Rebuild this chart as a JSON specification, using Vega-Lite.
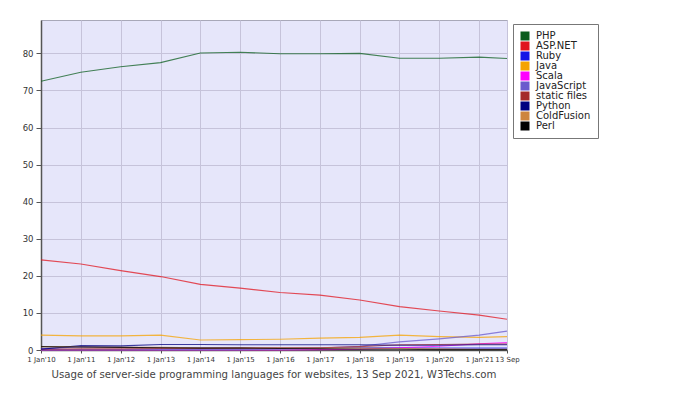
{
  "$schema": "https://vega.github.io/schema/vega-lite/v6.json",
  "width": 466,
  "height": 330,
  "autosize": "none",
  "padding": {"left": 41, "top": 20, "right": 178, "bottom": 54},
  "background": "white",
  "config": {
    "font": "DejaVu Sans",
    "view": {"fill": "#e6e6fa", "stroke": "#a8a8b8", "strokeWidth": 1},
    "axis": {"gridColor": "#c6c3da", "gridWidth": 1, "domainColor": "#555555", "tickColor": "#555555", "labelColor": "#333333", "titleColor": "#333333"}
  },
  "title": {"text": "Usage of server-side programming languages for websites, 13 Sep 2021, W3Techs.com", "orient": "bottom", "anchor": "middle", "fontSize": 10.2, "fontWeight": "normal", "color": "#444444", "offset": 8, "font": "DejaVu Sans"},
  "data": {"values": [
    {"d":"2010-01-01","l":"PHP","v":72.5},{"d":"2011-01-01","l":"PHP","v":74.9},{"d":"2012-01-01","l":"PHP","v":76.4},{"d":"2013-01-01","l":"PHP","v":77.5},{"d":"2014-01-01","l":"PHP","v":80.1},{"d":"2015-01-01","l":"PHP","v":80.3},{"d":"2016-01-01","l":"PHP","v":79.9},{"d":"2017-01-01","l":"PHP","v":79.9},{"d":"2018-01-01","l":"PHP","v":80.0},{"d":"2019-01-01","l":"PHP","v":78.7},{"d":"2020-01-01","l":"PHP","v":78.7},{"d":"2021-01-01","l":"PHP","v":79.0},{"d":"2021-09-13","l":"PHP","v":78.6},
    {"d":"2010-01-01","l":"ASP.NET","v":24.3},{"d":"2011-01-01","l":"ASP.NET","v":23.2},{"d":"2012-01-01","l":"ASP.NET","v":21.4},{"d":"2013-01-01","l":"ASP.NET","v":19.8},{"d":"2014-01-01","l":"ASP.NET","v":17.7},{"d":"2015-01-01","l":"ASP.NET","v":16.7},{"d":"2016-01-01","l":"ASP.NET","v":15.5},{"d":"2017-01-01","l":"ASP.NET","v":14.8},{"d":"2018-01-01","l":"ASP.NET","v":13.5},{"d":"2019-01-01","l":"ASP.NET","v":11.7},{"d":"2020-01-01","l":"ASP.NET","v":10.5},{"d":"2021-01-01","l":"ASP.NET","v":9.4},{"d":"2021-09-13","l":"ASP.NET","v":8.3},
    {"d":"2010-01-01","l":"Ruby","v":0.3},{"d":"2011-01-01","l":"Ruby","v":0.9},{"d":"2012-01-01","l":"Ruby","v":0.7},{"d":"2013-01-01","l":"Ruby","v":0.6},{"d":"2014-01-01","l":"Ruby","v":0.6},{"d":"2015-01-01","l":"Ruby","v":0.6},{"d":"2016-01-01","l":"Ruby","v":0.6},{"d":"2017-01-01","l":"Ruby","v":0.6},{"d":"2018-01-01","l":"Ruby","v":0.6},{"d":"2019-01-01","l":"Ruby","v":0.6},{"d":"2020-01-01","l":"Ruby","v":0.5},{"d":"2021-01-01","l":"Ruby","v":0.5},{"d":"2021-09-13","l":"Ruby","v":0.5},
    {"d":"2010-01-01","l":"Java","v":4.0},{"d":"2011-01-01","l":"Java","v":3.8},{"d":"2012-01-01","l":"Java","v":3.8},{"d":"2013-01-01","l":"Java","v":4.0},{"d":"2014-01-01","l":"Java","v":2.7},{"d":"2015-01-01","l":"Java","v":2.8},{"d":"2016-01-01","l":"Java","v":2.9},{"d":"2017-01-01","l":"Java","v":3.2},{"d":"2018-01-01","l":"Java","v":3.4},{"d":"2019-01-01","l":"Java","v":4.0},{"d":"2020-01-01","l":"Java","v":3.6},{"d":"2021-01-01","l":"Java","v":3.4},{"d":"2021-09-13","l":"Java","v":3.6},
    {"d":"2010-01-01","l":"Scala","v":0.0},{"d":"2011-01-01","l":"Scala","v":0.0},{"d":"2012-01-01","l":"Scala","v":0.0},{"d":"2013-01-01","l":"Scala","v":0.0},{"d":"2014-01-01","l":"Scala","v":0.0},{"d":"2015-01-01","l":"Scala","v":0.0},{"d":"2016-01-01","l":"Scala","v":0.0},{"d":"2017-01-01","l":"Scala","v":0.1},{"d":"2018-01-01","l":"Scala","v":0.2},{"d":"2019-01-01","l":"Scala","v":0.6},{"d":"2020-01-01","l":"Scala","v":1.0},{"d":"2021-01-01","l":"Scala","v":1.7},{"d":"2021-09-13","l":"Scala","v":2.0},
    {"d":"2010-01-01","l":"JavaScript","v":0.1},{"d":"2011-01-01","l":"JavaScript","v":0.1},{"d":"2012-01-01","l":"JavaScript","v":0.1},{"d":"2013-01-01","l":"JavaScript","v":0.1},{"d":"2014-01-01","l":"JavaScript","v":0.1},{"d":"2015-01-01","l":"JavaScript","v":0.1},{"d":"2016-01-01","l":"JavaScript","v":0.2},{"d":"2017-01-01","l":"JavaScript","v":0.5},{"d":"2018-01-01","l":"JavaScript","v":1.0},{"d":"2019-01-01","l":"JavaScript","v":2.2},{"d":"2020-01-01","l":"JavaScript","v":3.0},{"d":"2021-01-01","l":"JavaScript","v":4.0},{"d":"2021-09-13","l":"JavaScript","v":5.1},
    {"d":"2010-01-01","l":"static files","v":0.2},{"d":"2011-01-01","l":"static files","v":0.3},{"d":"2012-01-01","l":"static files","v":0.3},{"d":"2013-01-01","l":"static files","v":0.4},{"d":"2014-01-01","l":"static files","v":0.4},{"d":"2015-01-01","l":"static files","v":0.5},{"d":"2016-01-01","l":"static files","v":0.5},{"d":"2017-01-01","l":"static files","v":0.6},{"d":"2018-01-01","l":"static files","v":0.9},{"d":"2019-01-01","l":"static files","v":1.4},{"d":"2020-01-01","l":"static files","v":1.5},{"d":"2021-01-01","l":"static files","v":1.6},{"d":"2021-09-13","l":"static files","v":1.6},
    {"d":"2010-01-01","l":"Python","v":0.2},{"d":"2011-01-01","l":"Python","v":1.2},{"d":"2012-01-01","l":"Python","v":1.1},{"d":"2013-01-01","l":"Python","v":1.5},{"d":"2014-01-01","l":"Python","v":1.5},{"d":"2015-01-01","l":"Python","v":1.4},{"d":"2016-01-01","l":"Python","v":1.4},{"d":"2017-01-01","l":"Python","v":1.4},{"d":"2018-01-01","l":"Python","v":1.4},{"d":"2019-01-01","l":"Python","v":1.3},{"d":"2020-01-01","l":"Python","v":1.3},{"d":"2021-01-01","l":"Python","v":1.4},{"d":"2021-09-13","l":"Python","v":1.4},
    {"d":"2010-01-01","l":"ColdFusion","v":0.9},{"d":"2011-01-01","l":"ColdFusion","v":0.8},{"d":"2012-01-01","l":"ColdFusion","v":0.7},{"d":"2013-01-01","l":"ColdFusion","v":0.7},{"d":"2014-01-01","l":"ColdFusion","v":0.6},{"d":"2015-01-01","l":"ColdFusion","v":0.6},{"d":"2016-01-01","l":"ColdFusion","v":0.6},{"d":"2017-01-01","l":"ColdFusion","v":0.5},{"d":"2018-01-01","l":"ColdFusion","v":0.5},{"d":"2019-01-01","l":"ColdFusion","v":0.4},{"d":"2020-01-01","l":"ColdFusion","v":0.3},{"d":"2021-01-01","l":"ColdFusion","v":0.2},{"d":"2021-09-13","l":"ColdFusion","v":0.2},
    {"d":"2010-01-01","l":"Perl","v":0.9},{"d":"2011-01-01","l":"Perl","v":0.8},{"d":"2012-01-01","l":"Perl","v":0.7},{"d":"2013-01-01","l":"Perl","v":0.6},{"d":"2014-01-01","l":"Perl","v":0.5},{"d":"2015-01-01","l":"Perl","v":0.5},{"d":"2016-01-01","l":"Perl","v":0.4},{"d":"2017-01-01","l":"Perl","v":0.3},{"d":"2018-01-01","l":"Perl","v":0.2},{"d":"2019-01-01","l":"Perl","v":0.2},{"d":"2020-01-01","l":"Perl","v":0.1},{"d":"2021-01-01","l":"Perl","v":0.1},{"d":"2021-09-13","l":"Perl","v":0.1}
  ]},
  "mark": {"type": "line", "strokeWidth": 1.1, "opacity": 0.75},
  "encoding": {
    "x": {
      "field": "d", "type": "temporal",
      "scale": {"type": "utc", "domain": [{"year": 2010, "month": 1, "date": 1, "utc": true}, {"year": 2021, "month": 9, "date": 13, "utc": true}], "nice": false},
      "axis": {
        "title": null,
        "values": [
          {"year": 2010, "month": 1, "date": 1, "utc": true},
          {"year": 2011, "month": 1, "date": 1, "utc": true},
          {"year": 2012, "month": 1, "date": 1, "utc": true},
          {"year": 2013, "month": 1, "date": 1, "utc": true},
          {"year": 2014, "month": 1, "date": 1, "utc": true},
          {"year": 2015, "month": 1, "date": 1, "utc": true},
          {"year": 2016, "month": 1, "date": 1, "utc": true},
          {"year": 2017, "month": 1, "date": 1, "utc": true},
          {"year": 2018, "month": 1, "date": 1, "utc": true},
          {"year": 2019, "month": 1, "date": 1, "utc": true},
          {"year": 2020, "month": 1, "date": 1, "utc": true},
          {"year": 2021, "month": 1, "date": 1, "utc": true},
          {"year": 2021, "month": 9, "date": 13, "utc": true}
        ],
        "labelExpr": "utcmonth(datum.value) == 8 ? '13 Sep' : \"1 Jan'\" + utcFormat(datum.value, '%y')",
        "labelFontSize": 7,
        "labelOverlap": false,
        "labelFlush": false,
        "labelBound": false,
        "labelPadding": 2,
        "tickSize": 3,
        "domainWidth": 1.5,
        "grid": true
      }
    },
    "y": {
      "field": "v", "type": "quantitative",
      "scale": {"domain": [0, 89], "nice": false, "zero": true},
      "axis": {"title": null, "values": [0, 10, 20, 30, 40, 50, 60, 70, 80], "labelFontSize": 8.5, "tickSize": 5, "labelPadding": 3, "domainWidth": 1.5, "grid": true}
    },
    "color": {
      "field": "l", "type": "nominal",
      "scale": {
        "domain": ["PHP", "ASP.NET", "Ruby", "Java", "Scala", "JavaScript", "static files", "Python", "ColdFusion", "Perl"],
        "range": ["#0b5d1e", "#e0141e", "#1414e6", "#f5a300", "#ff00ff", "#6a5acd", "#a52a2a", "#000080", "#cd853f", "#000000"]
      },
      "legend": {
        "title": null,
        "orient": "none",
        "legendX": 472,
        "legendY": 4,
        "symbolType": "square",
        "symbolSize": 81,
        "symbolStrokeWidth": 0,
        "symbolOpacity": 1,
        "labelFontSize": 10,
        "labelColor": "#222222",
        "labelOffset": 6,
        "rowPadding": 0,
        "padding": 7,
        "strokeColor": "#777777",
        "fillColor": "white",
        "cornerRadius": 0,
        "encode": {
          "symbols": {
            "update": {
              "fill": {"scale": "color", "field": "value"},
              "fillOpacity": {"value": 1},
              "opacity": {"value": 1}
            }
          }
        }
      }
    }
  }
}
